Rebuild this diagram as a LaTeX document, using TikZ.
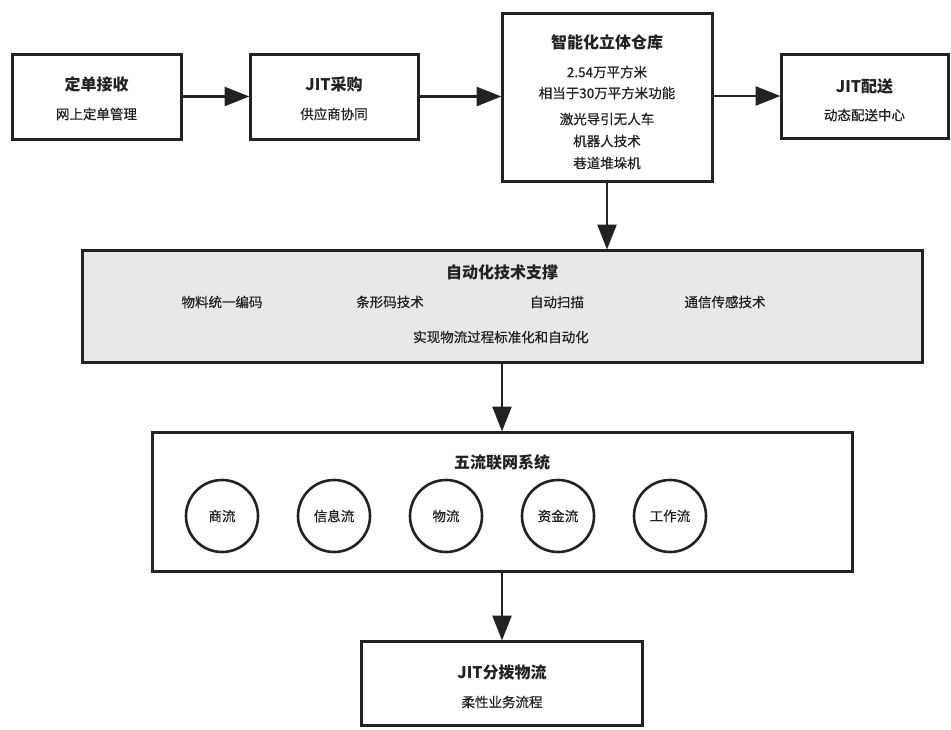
\documentclass[tikz,border=0pt]{standalone}
\usepackage{fontspec}
\setmainfont{Noto Sans CJK SC}
\newfontfamily\subfont[FakeBold=0.6]{Noto Sans CJK SC}
\usetikzlibrary{arrows.meta}
\definecolor{ink}{HTML}{222222}
\definecolor{panel}{HTML}{E8E8EA}
\tikzset{
  boxshape/.style={draw=ink, line width=3pt, fill=white, rectangle, inner sep=0pt},
  ttl/.style={text=ink, font=\fontsize{16}{18}\selectfont\bfseries, inner sep=0pt},
  sub/.style={text=ink, font=\subfont\fontsize{13.5}{16}\selectfont, inner sep=0pt},
  flowc/.style={draw=ink, line width=2.6pt, circle, minimum size=72pt, inner sep=0pt, text=ink, font=\subfont\fontsize{13.5}{16}\selectfont},
  conn/.style={draw=ink, line width=2.6pt, -{Triangle[length=25pt,width=19pt]}, shorten >=-1pt}
}
\begin{document}
\begin{tikzpicture}[x=1pt,y=-1pt]
\useasboundingbox (0,0) rectangle (951,729);
% top row boxes
\node[boxshape, minimum width=169pt, minimum height=85pt] (b1) at (96.5,96.5) {};
\node[ttl] (b1t) at (96.5,84) {定单接收};
\node[sub] (b1s) at (96.5,114) {网上定单管理};

\node[boxshape, minimum width=168pt, minimum height=85pt] (b2) at (334,96.5) {};
\node[ttl] (b2t) at (334,84) {JIT采购};
\node[sub] (b2s) at (334,114) {供应商协同};

\node[boxshape, minimum width=210pt, minimum height=168pt] (b3) at (607,97) {};
\node[ttl] (b3t) at (607,42) {智能化立体仓库};
\node[sub] (b3a) at (607,72) {2.54万平方米};
\node[sub] (b3b) at (607,93) {相当于30万平方米功能};
\node[sub] (b3c) at (607,119) {激光导引无人车};
\node[sub] (b3d) at (607,141) {机器人技术};
\node[sub] (b3e) at (607,163) {巷道堆垛机};

\node[boxshape, minimum width=167pt, minimum height=84pt] (b4) at (864.5,96) {};
\node[ttl] (b4t) at (864.5,86) {JIT配送};
\node[sub] (b4s) at (864.5,115) {动态配送中心};

% automation panel
\node[boxshape, fill=panel, minimum width=840pt, minimum height=112pt] (auto) at (502,306) {};
\node[ttl] (autot) at (502,272) {自动化技术支撑};
\node[sub] (a1) at (222,302) {物料统一编码};
\node[sub] (a2) at (390,302) {条形码技术};
\node[sub] (a3) at (557,302) {自动扫描};
\node[sub] (a4) at (725,302) {通信传感技术};
\node[sub] (a5) at (501,337) {实现物流过程标准化和自动化};

% five flows
\node[boxshape, minimum width=700pt, minimum height=139pt] (five) at (502,501.5) {};
\node[ttl] (fivet) at (502,462) {五流联网系统};
\node[flowc] (c1) at (222,516) {商流};
\node[flowc] (c2) at (334,516) {信息流};
\node[flowc] (c3) at (446,516) {物流};
\node[flowc] (c4) at (558,516) {资金流};
\node[flowc] (c5) at (670,516) {工作流};

% bottom box
\node[boxshape, minimum width=281pt, minimum height=84pt] (b5) at (502,683) {};
\node[ttl] (b5t) at (502,672) {JIT分拨物流};
\node[sub] (b5s) at (502,702) {柔性业务流程};

% connectors
\draw[conn] (b1.east) -- (b2.west);
\draw[conn] (b2.east) -- (b3.west |- b2.east);
\draw[conn] (b3.east |- b4.west) -- (b4.west);
\draw[conn] (b3.south) -- (b3.south |- auto.north);
\draw[conn] (auto.south -| five.north) -- (five.north);
\draw[conn] (five.south) -- (b5.north);
\end{tikzpicture}
\end{document}
